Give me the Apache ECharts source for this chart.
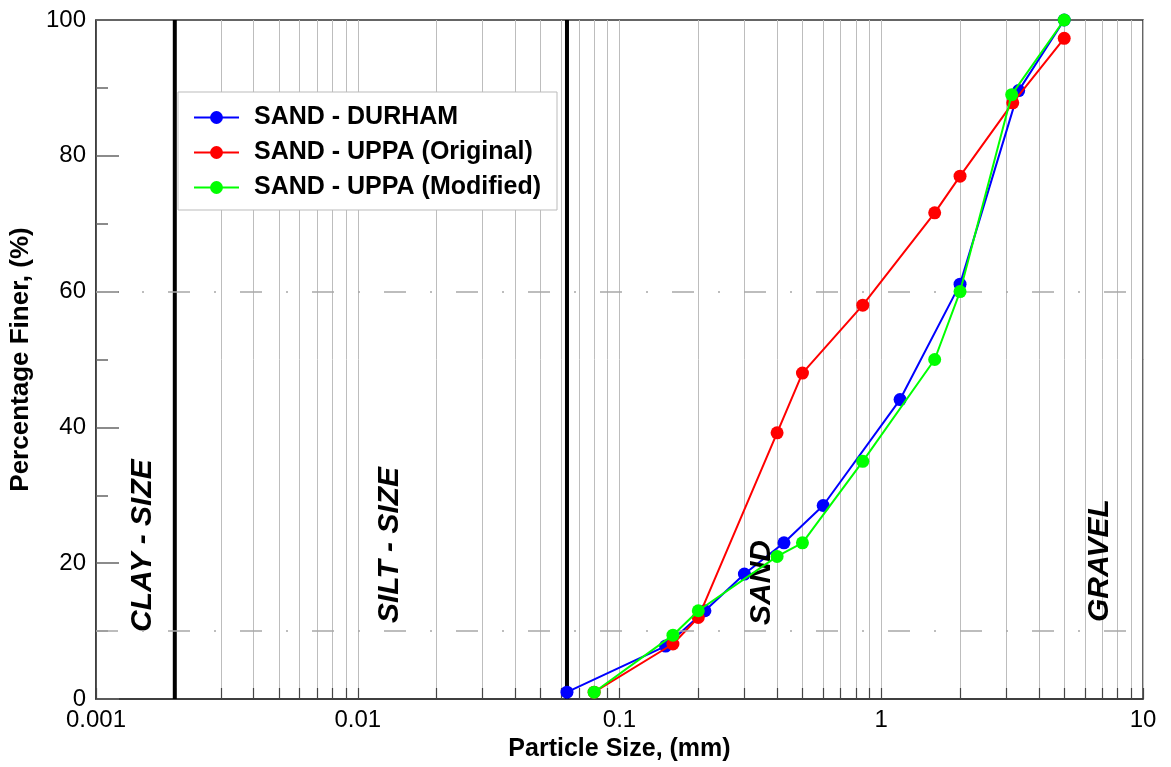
<!DOCTYPE html>
<html>
<head>
<meta charset="utf-8">
<script src="https://cdn.jsdelivr.net/npm/echarts@6/dist/echarts.min.js"></script>
<style>html,body{margin:0;padding:0;background:#fff}#c{width:1171px;height:767px}</style>
</head>
<body>
<div id="c"></div>
<script>
// ---- data ----
var seriesNames = ['SAND - DURHAM', 'SAND - UPPA (Original)', 'SAND - UPPA (Modified)'];
var durhamSize = [0.063, 0.15, 0.212, 0.3, 0.425, 0.6, 1.18, 2.0, 3.35, 5.0];
var durhamPct  = [1, 7.8, 13.0, 18.4, 23.0, 28.5, 44.1, 61.1, 89.6, 100];
var origSize   = [0.08, 0.16, 0.2, 0.4, 0.5, 0.85, 1.6, 2.0, 3.18, 5.0];
var origPct    = [1, 8.1, 12.0, 39.2, 48.0, 58.0, 71.6, 77.0, 87.8, 97.3];
var modSize    = [0.08, 0.16, 0.2, 0.4, 0.5, 0.85, 1.6, 2.0, 3.15, 5.0];
var modPct     = [1, 9.4, 13.0, 21.0, 23.0, 35.0, 50.0, 60.0, 89.0, 100];
var xTickLabels = [0.001, 0.01, 0.1, 1, 10];
var boundarySizes = [0.002, 0.063];      // clay/silt and silt/sand boundaries
var refPercents = [10, 60];              // D10 / D60 reference lines
var regionLabels = ['CLAY - SIZE', 'SILT - SIZE', 'SAND', 'GRAVEL'];

// gridline positions (1..9 x 10^k)
var gridVals = [];
for (var e = -3; e <= 0; e++) {
  for (var m = 1; m <= 9; m++) gridVals.push(+(m * Math.pow(10, e)).toPrecision(6));
}
gridVals.push(10);

function pairs(xs, ys) { return xs.map(function (x, i) { return [x, ys[i]]; }); }

var FONT = 'Liberation Sans, Arial, sans-serif';
var colors = ['#0000ff', '#ff0000', '#00ff00'];
var regionPos = [[143, 632], [390, 623], [762, 625], [1100, 622]];

var boundarySeries = boundarySizes.map(function (v) {
  return {type: 'line', name: '_b' + v, data: [[v, 0], [v, 100]], symbol: 'none', silent: true,
    lineStyle: {color: '#000', width: 4}, color: '#000', z: 2, clip: false};
});

var chart = echarts.init(document.getElementById('c'), null, {renderer: 'canvas'});
var option = {
  animation: false,
  backgroundColor: '#fff',
  grid: {left: 95, right: 28, top: 20, bottom: 68, show: true, borderColor: '#333', borderWidth: 1.5, backgroundColor: 'transparent'},
  legend: {
    orient: 'vertical', left: 178, top: 92,
    data: seriesNames,
    backgroundColor: '#fff', borderColor: '#bbb', borderWidth: 1,
    padding: [13, 16, 10, 15],
    itemWidth: 45, itemHeight: 16, itemGap: 10,
    textStyle: {fontFamily: FONT, fontWeight: 'bold', fontSize: 25, color: '#000', lineHeight: 25, padding: [0, 0, 0, 10]}
  },
  xAxis: {
    type: 'log', logBase: 10, min: 0.001, max: 10,
    name: 'Particle Size, (mm)', nameLocation: 'middle', nameGap: 36,
    nameTextStyle: {fontFamily: FONT, fontWeight: 'bold', fontSize: 25, color: '#000'},
    axisLine: {show: true, onZero: false, lineStyle: {color: '#333', width: 1.5}},
    axisTick: {show: true, inside: true, length: 11, customValues: gridVals, lineStyle: {color: '#444', width: 1.2}},
    axisLabel: {customValues: xTickLabels, fontFamily: FONT, fontSize: 24, color: '#000', margin: 9,
      formatter: function (v) { return String(+(+v).toPrecision(6)); }},
    splitLine: {show: true, lineStyle: {color: '#bdbdbd', width: 1}},
    minorTick: {show: false}
  },
  yAxis: {
    type: 'value', min: 0, max: 100, interval: 20,
    name: 'Percentage Finer, (%)', nameLocation: 'middle', nameGap: 62,
    nameTextStyle: {fontFamily: FONT, fontWeight: 'bold', fontSize: 26, color: '#000'},
    axisLine: {show: true, lineStyle: {color: '#333', width: 1.5}},
    axisTick: {show: true, inside: true, length: 23, lineStyle: {color: '#666', width: 1.5}},
    minorTick: {show: true, splitNumber: 2, length: 12, lineStyle: {color: '#666', width: 1.5}},
    axisLabel: {fontFamily: FONT, fontSize: 24, color: '#000', margin: 10},
    splitLine: {show: false}
  },
  graphic: regionLabels.map(function (t, i) {
    return {type: 'text', x: regionPos[i][0], y: regionPos[i][1], rotation: Math.PI / 2, z: 5,
      style: {text: t, font: 'italic bold 30px ' + FONT, fill: '#000', textAlign: 'left', textVerticalAlign: 'middle'}};
  }),
  series: [
    {
      type: 'line', name: '_ref', data: [], silent: true, z: 1,
      markLine: {
        silent: true, symbol: 'none', label: {show: false}, animation: false,
        data: refPercents.map(function (v) { return {yAxis: v, lineStyle: {color: '#a8a8a8', width: 1.5, type: [22, 24, 2, 24]}}; })
      }
    }
  ].concat(boundarySeries).concat([
    {type: 'line', name: seriesNames[0], data: pairs(durhamSize, durhamPct), color: colors[0], symbol: 'circle', symbolSize: 13, lineStyle: {width: 2}, z: 3},
    {type: 'line', name: seriesNames[1], data: pairs(origSize, origPct), color: colors[1], symbol: 'circle', symbolSize: 13, lineStyle: {width: 2}, z: 4},
    {type: 'line', name: seriesNames[2], data: pairs(modSize, modPct), color: colors[2], symbol: 'circle', symbolSize: 13, lineStyle: {width: 2}, z: 5}
  ])
};
chart.setOption(option);
</script>
</body>
</html>
